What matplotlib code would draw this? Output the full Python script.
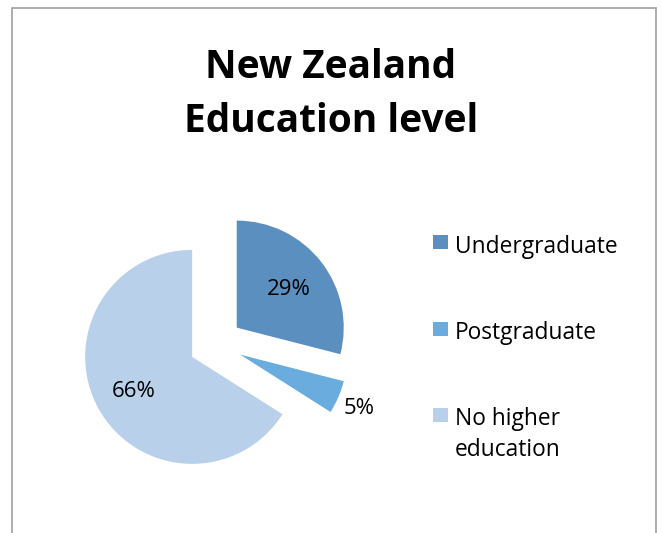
import matplotlib
matplotlib.use("Agg")
import matplotlib.pyplot as plt
from matplotlib.patches import Rectangle
import numpy as np

categories = ["Undergraduate", "Postgraduate", "No higher\neducation"]
shares = [29, 5, 66]
colors = ["#5A8FC0", "#6AACDD", "#B9D0EA"]

W, H = 662, 533
fig = plt.figure(figsize=(W / 100, H / 100), dpi=100)
fig.patch.set_facecolor("white")

# chart frame (open at the bottom edge)
fig.patches.append(Rectangle((12 / W, -0.05), (656 - 12) / W, (H - 8) / H + 0.05,
                             transform=fig.transFigure, fill=False,
                             edgecolor="#A0A0A0", linewidth=1.2))

# pie axes: 107 px per data unit, centre at (215.6, 344) px
scale = 107
cx, cy = 215.6, H - 344
half = 1.5
ax = fig.add_axes([(cx - half * scale) / W, (cy - half * scale) / H,
                   2 * half * scale / W, 2 * half * scale / H])

wedges, texts, autotexts = ax.pie(
    shares, colors=colors, startangle=90, counterclock=False,
    explode=[0.25] * len(shares), autopct="%d%%", pctdistance=0.62,
    wedgeprops=dict(linewidth=0),
    textprops=dict(fontsize=16, family="Open Sans", color="black"))
ax.set_xlim(-half, half)
ax.set_ylim(-half, half)
ax.set_aspect("equal")
ax.axis("off")
for t in autotexts:
    t.set_va("center_baseline")

# the small slice carries its label outside the wedge
w = wedges[1]
mid = np.deg2rad((w.theta1 + w.theta2) / 2)
ox, oy = w.center
autotexts[1].set_position((ox + 1.21 * np.cos(mid), oy + 1.21 * np.sin(mid)))

fig.text(0.5, (H - 78) / H, "New Zealand", ha="center", va="baseline",
         fontsize=28, fontweight="bold", family="Open Sans")
fig.text(0.5, (H - 132) / H, "Education level", ha="center", va="baseline",
         fontsize=28, fontweight="bold", family="Open Sans")

# legend (baseline of the last text line per entry)
sq = 14.5
rows_sq = [242, 329, 415]
rows_base = [253.3, 339.3, 456]
for name, col, ys, yb in zip(categories, colors, rows_sq, rows_base):
    fig.patches.append(Rectangle((433 / W, (H - ys - sq / 2) / H), sq / W, sq / H,
                                 transform=fig.transFigure, facecolor=col,
                                 edgecolor="none"))
    fig.text(455 / W, (H - yb) / H, name, ha="left", va="baseline",
             fontsize=16.4, family="Open Sans", linespacing=1.40)

fig.savefig("out.png", dpi=100)
